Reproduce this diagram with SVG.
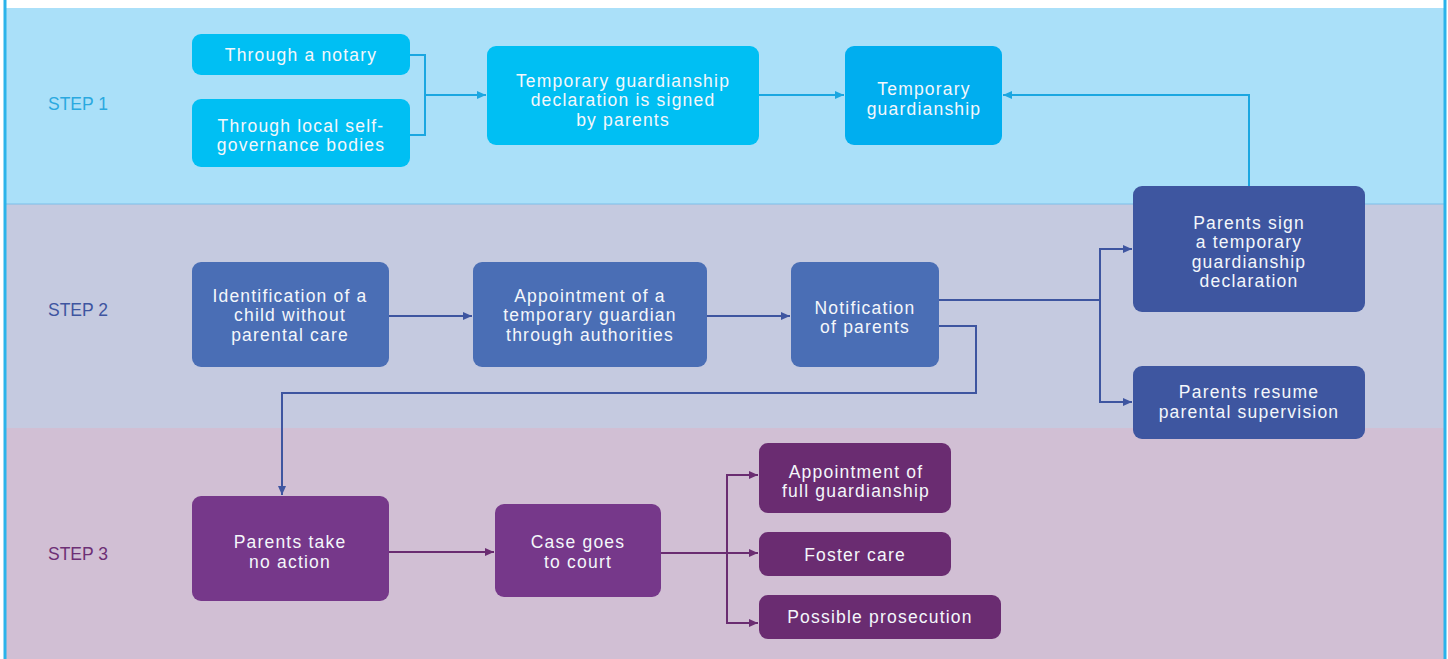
<svg xmlns="http://www.w3.org/2000/svg" width="1448" height="659" viewBox="0 0 1448 659">
<defs>
<style>
.t{font-family:"Liberation Sans",Arial,sans-serif;font-size:17.5px;letter-spacing:1.2px;fill:#f4f7fb;text-anchor:middle}
.s{font-family:"Liberation Sans",Arial,sans-serif;font-size:17.5px}
.c1{fill:none;stroke:#1ba7e1;stroke-width:2}
.c2{fill:none;stroke:#3e55a0;stroke-width:2}
.c3{fill:none;stroke:#6a2c71;stroke-width:2}
.n1{fill:#00bff3}
.n1b{fill:#00aeef}
.n2{fill:#4a6eb5}
.n2b{fill:#3e56a0}
.n3{fill:#76388a}
.n3b{fill:#6a2c71}
</style>
<marker id="a1" markerUnits="userSpaceOnUse" markerWidth="10" markerHeight="10" refX="9" refY="5" orient="auto"><path d="M0,1 L9,5 L0,9 z" fill="#1ba7e1"/></marker>
<marker id="a2" markerUnits="userSpaceOnUse" markerWidth="10" markerHeight="10" refX="9" refY="5" orient="auto"><path d="M0,1 L9,5 L0,9 z" fill="#3e55a0"/></marker>
<marker id="a3" markerUnits="userSpaceOnUse" markerWidth="10" markerHeight="10" refX="9" refY="5" orient="auto"><path d="M0,1 L9,5 L0,9 z" fill="#6a2c71"/></marker>
</defs>
<g id="background">
<rect x="0" y="0" width="1448" height="659" fill="#ffffff"/>
<rect x="5" y="8" width="1440" height="196" fill="#aae0f9"/>
<rect x="5" y="204" width="1440" height="224" fill="#c5cae0"/>
<rect x="5" y="428" width="1440" height="231" fill="#d1bfd4"/>
<line x1="5" y1="204" x2="1445" y2="204" stroke="#7dbfe9" stroke-width="1"/>
<line x1="5" y1="0" x2="5" y2="659" stroke="#2bb3ea" stroke-width="3"/>
<line x1="1445" y1="0" x2="1445" y2="659" stroke="#2bb3ea" stroke-width="3"/>
</g>
<g id="labels">
<text class="s" x="48" y="110" fill="#2aa9e0">STEP 1</text>
<text class="s" x="48" y="316" fill="#3e55a0">STEP 2</text>
<text class="s" x="48" y="560" fill="#6d2f75">STEP 3</text>
</g>
<g id="connectors">
<path class="c1" d="M410,55 H425 V135 H410"/>
<path class="c1" d="M425,95 H486" marker-end="url(#a1)"/>
<path class="c1" d="M759,95 H844" marker-end="url(#a1)"/>
<path class="c1" d="M1249,186 V95 H1003" marker-end="url(#a1)"/>
<path class="c2" d="M389,316 H472" marker-end="url(#a2)"/>
<path class="c2" d="M707,316 H790" marker-end="url(#a2)"/>
<path class="c2" d="M939,300 H1100"/>
<path class="c2" d="M1132,249 H1100 V402 H1132"/>
<path class="c2" d="M1100,249 H1132" marker-end="url(#a2)"/>
<path class="c2" d="M1100,402 H1132" marker-end="url(#a2)"/>
<path class="c2" d="M939,326 H976 V393 H282 V495" marker-end="url(#a2)"/>
<path class="c3" d="M389,552 H494" marker-end="url(#a3)"/>
<path class="c3" d="M661,553 H758" marker-end="url(#a3)"/>
<path class="c3" d="M758,475 H727 V623 H758"/>
<path class="c3" d="M727,475 H758" marker-end="url(#a3)"/>
<path class="c3" d="M727,623 H758" marker-end="url(#a3)"/>
</g>
<g id="n-notary"><rect class="n1" x="192" y="34" width="218" height="41" rx="9"/><text class="t" x="301" y="61">Through a notary</text></g>
<g id="n-local"><rect class="n1" x="192" y="99" width="218" height="68" rx="9"/><text class="t" y="131.5"><tspan x="301">Through local self-</tspan><tspan x="301" dy="19.5">governance bodies</tspan></text></g>
<g id="n-declaration"><rect class="n1" x="487" y="46" width="272" height="99" rx="9"/><text class="t" y="86.5"><tspan x="623">Temporary guardianship</tspan><tspan x="623" dy="19.5">declaration is signed</tspan><tspan x="623" dy="19.5">by parents</tspan></text></g>
<g id="n-tempguard"><rect class="n1b" x="845" y="46" width="157" height="99" rx="9"/><text class="t" y="95"><tspan x="924">Temporary</tspan><tspan x="924" dy="19.5">guardianship</tspan></text></g>
<g id="n-identification"><rect class="n2" x="192" y="262" width="197" height="105" rx="9"/><text class="t" y="301.5"><tspan x="290">Identification of a</tspan><tspan x="290" dy="19.5">child without</tspan><tspan x="290" dy="19.5">parental care</tspan></text></g>
<g id="n-appointment"><rect class="n2" x="473" y="262" width="234" height="105" rx="9"/><text class="t" y="301.5"><tspan x="590">Appointment of a</tspan><tspan x="590" dy="19.5">temporary guardian</tspan><tspan x="590" dy="19.5">through authorities</tspan></text></g>
<g id="n-notification"><rect class="n2" x="791" y="262" width="148" height="105" rx="9"/><text class="t" y="313.5"><tspan x="865">Notification</tspan><tspan x="865" dy="19.5">of parents</tspan></text></g>
<g id="n-sign"><rect class="n2b" x="1133" y="186" width="232" height="126" rx="9"/><text class="t" y="228.5"><tspan x="1249">Parents sign</tspan><tspan x="1249" dy="19.5">a temporary</tspan><tspan x="1249" dy="19.5">guardianship</tspan><tspan x="1249" dy="19.5">declaration</tspan></text></g>
<g id="n-resume"><rect class="n2b" x="1133" y="366" width="232" height="73" rx="9"/><text class="t" y="398"><tspan x="1249">Parents resume</tspan><tspan x="1249" dy="19.5">parental supervision</tspan></text></g>
<g id="n-noaction"><rect class="n3" x="192" y="496" width="197" height="105" rx="9"/><text class="t" y="548"><tspan x="290">Parents take</tspan><tspan x="290" dy="19.5">no action</tspan></text></g>
<g id="n-court"><rect class="n3" x="495" y="504" width="166" height="93" rx="9"/><text class="t" y="548"><tspan x="578">Case goes</tspan><tspan x="578" dy="19.5">to court</tspan></text></g>
<g id="n-full"><rect class="n3b" x="759" y="443" width="192" height="70" rx="9"/><text class="t" y="477.5"><tspan x="856">Appointment of</tspan><tspan x="856" dy="19.5">full guardianship</tspan></text></g>
<g id="n-foster"><rect class="n3b" x="759" y="532" width="192" height="44" rx="9"/><text class="t" x="855" y="561">Foster care</text></g>
<g id="n-prosecution"><rect class="n3b" x="759" y="595" width="242" height="44" rx="9"/><text class="t" x="880" y="623">Possible prosecution</text></g>
</svg>
